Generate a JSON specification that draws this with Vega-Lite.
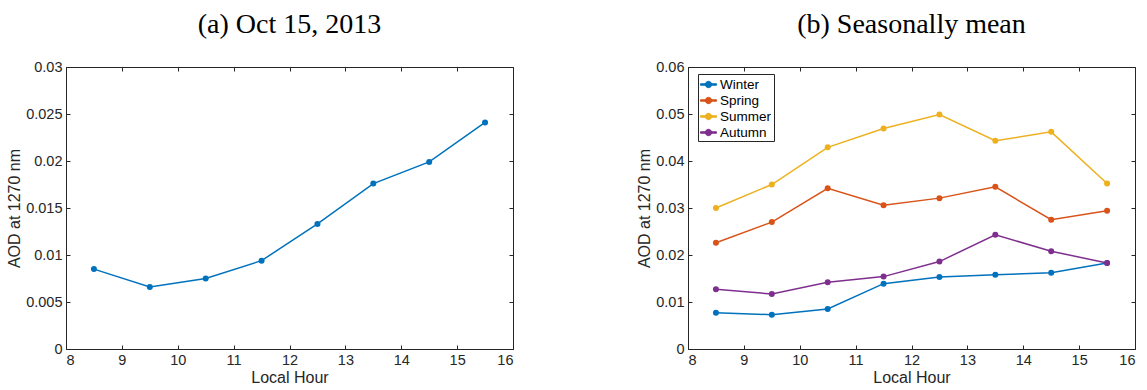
{
  "$schema": "https://vega.github.io/schema/vega-lite/v6.json",
  "background": "white",
  "padding": {"left": 6, "top": 10, "right": 4, "bottom": 0},
  "config": {
    "view": {"stroke": "#262626", "strokeWidth": 1},
    "style": {"guide-label": {"fontSize": 14.5, "font": "Liberation Sans"}, "guide-title": {"fontSize": 16, "font": "Liberation Sans"}},
    "axis": {
      "grid": false,
      "domainColor": "#262626",
      "tickColor": "#262626",
      "labelColor": "#262626",
      "titleColor": "#262626",
      "labelFont": "Liberation Sans",
      "titleFont": "Liberation Sans",
      "labelFontSize": 14.5,
      "titleFontSize": 16,
      "titleFontWeight": "normal",
      "tickSize": -4,
      "labelPadding": 8,
      "titlePadding": 3
    },
    "title": {"font": "Liberation Serif", "fontSize": 28, "fontWeight": "normal", "color": "black", "offset": 20},
    "concat": {"spacing": 122}
  },
  "datasets": {
    "oct": [
      {"hour": 8.5, "aod": 0.0085},
      {"hour": 9.5, "aod": 0.0066},
      {"hour": 10.5, "aod": 0.0075},
      {"hour": 11.5, "aod": 0.0094},
      {"hour": 12.5, "aod": 0.0133},
      {"hour": 13.5, "aod": 0.0176},
      {"hour": 14.5, "aod": 0.0199},
      {"hour": 15.5, "aod": 0.0241}
    ],
    "seasons": [
      {"hour": 8.5, "season": "Winter", "aod": 0.0077},
      {"hour": 9.5, "season": "Winter", "aod": 0.0073},
      {"hour": 10.5, "season": "Winter", "aod": 0.0085},
      {"hour": 11.5, "season": "Winter", "aod": 0.0139},
      {"hour": 12.5, "season": "Winter", "aod": 0.0153},
      {"hour": 13.5, "season": "Winter", "aod": 0.0158},
      {"hour": 14.5, "season": "Winter", "aod": 0.0162},
      {"hour": 15.5, "season": "Winter", "aod": 0.0183},
      {"hour": 8.5, "season": "Spring", "aod": 0.0226},
      {"hour": 9.5, "season": "Spring", "aod": 0.0270},
      {"hour": 10.5, "season": "Spring", "aod": 0.0342},
      {"hour": 11.5, "season": "Spring", "aod": 0.0306},
      {"hour": 12.5, "season": "Spring", "aod": 0.0321},
      {"hour": 13.5, "season": "Spring", "aod": 0.0345},
      {"hour": 14.5, "season": "Spring", "aod": 0.0275},
      {"hour": 15.5, "season": "Spring", "aod": 0.0294},
      {"hour": 8.5, "season": "Summer", "aod": 0.0300},
      {"hour": 9.5, "season": "Summer", "aod": 0.0350},
      {"hour": 10.5, "season": "Summer", "aod": 0.0429},
      {"hour": 11.5, "season": "Summer", "aod": 0.0469},
      {"hour": 12.5, "season": "Summer", "aod": 0.0499},
      {"hour": 13.5, "season": "Summer", "aod": 0.0443},
      {"hour": 14.5, "season": "Summer", "aod": 0.0462},
      {"hour": 15.5, "season": "Summer", "aod": 0.0352},
      {"hour": 8.5, "season": "Autumn", "aod": 0.0127},
      {"hour": 9.5, "season": "Autumn", "aod": 0.0117},
      {"hour": 10.5, "season": "Autumn", "aod": 0.0142},
      {"hour": 11.5, "season": "Autumn", "aod": 0.0154},
      {"hour": 12.5, "season": "Autumn", "aod": 0.0186},
      {"hour": 13.5, "season": "Autumn", "aod": 0.0243},
      {"hour": 14.5, "season": "Autumn", "aod": 0.0208},
      {"hour": 15.5, "season": "Autumn", "aod": 0.0183}
    ]
  },
  "resolve": {"scale": {"color": "independent"}, "legend": {"color": "independent"}},
  "hconcat": [
    {
      "title": {"text": "(a) Oct 15, 2013"},
      "width": 447,
      "height": 282,
      "data": {"name": "oct"},
      "layer": [
        {
          "mark": {"type": "line", "color": "#0072BD", "strokeWidth": 1.5, "point": {"filled": true, "size": 36, "color": "#0072BD"}},
          "encoding": {
            "x": {"field": "hour", "type": "quantitative", "scale": {"domain": [8, 16], "nice": false},
                  "axis": {"title": "Local Hour", "values": [8, 9, 10, 11, 12, 13, 14, 15, 16], "labelFontSize": 14.5, "labelFont": "Liberation Sans", "titleFontSize": 16}},
            "y": {"field": "aod", "type": "quantitative", "scale": {"domain": [0, 0.03], "nice": false},
                  "axis": {"title": "AOD at 1270 nm", "values": [0, 0.005, 0.01, 0.015, 0.02, 0.025, 0.03], "format": "~g", "labelFontSize": 14.5, "labelFont": "Liberation Sans", "titleFontSize": 16}}
          }
        },
        {
          "mark": {"type": "line", "opacity": 0},
          "encoding": {
            "x": {"field": "hour", "type": "quantitative",
                  "axis": {"orient": "top", "labels": false, "title": null, "domain": false, "values": [8, 9, 10, 11, 12, 13, 14, 15, 16]}},
            "y": {"field": "aod", "type": "quantitative",
                  "axis": {"orient": "right", "labels": false, "title": null, "domain": false, "values": [0, 0.005, 0.01, 0.015, 0.02, 0.025, 0.03]}}
          }
        }
      ],
      "resolve": {"axis": {"x": "independent", "y": "independent"}}
    },
    {
      "title": {"text": "(b) Seasonally mean"},
      "width": 447,
      "height": 282,
      "data": {"name": "seasons"},
      "layer": [
        {
          "mark": {"type": "line", "strokeWidth": 1.5},
          "encoding": {
            "x": {"field": "hour", "type": "quantitative", "scale": {"domain": [8, 16], "nice": false},
                  "axis": {"title": "Local Hour", "values": [8, 9, 10, 11, 12, 13, 14, 15, 16], "labelFontSize": 14.5, "labelFont": "Liberation Sans", "titleFontSize": 16}},
            "y": {"field": "aod", "type": "quantitative", "scale": {"domain": [0, 0.06], "nice": false},
                  "axis": {"title": "AOD at 1270 nm", "values": [0, 0.01, 0.02, 0.03, 0.04, 0.05, 0.06], "format": "~g", "labelFontSize": 14.5, "labelFont": "Liberation Sans", "titleFontSize": 16}},
            "color": {"field": "season", "type": "nominal",
                      "scale": {"domain": ["Winter", "Spring", "Summer", "Autumn"], "range": ["#0072BD", "#D95319", "#EDB120", "#7E2F8E"]}}
          }
        },
        {
          "mark": {"type": "point", "filled": true, "size": 36, "opacity": 1},
          "encoding": {
            "x": {"field": "hour", "type": "quantitative", "axis": null},
            "y": {"field": "aod", "type": "quantitative", "axis": null},
            "color": {"field": "season", "type": "nominal",
                      "legend": {
                        "title": null,
                        "orient": "none",
                        "legendX": 10,
                        "legendY": 7,
                        "padding": 2,
                        "strokeColor": "#262626",
                        "fillColor": "white",
                        "labelFont": "Liberation Sans",
                        "labelFontSize": 13.5,
                        "labelColor": "black",
                        "labelOffset": 3,
                        "rowPadding": 1,
                        "symbolSize": 256,
                        "symbolOpacity": 1,
                        "symbolStrokeWidth": 1,
                        "symbolType": "M-1,-0.09H1V0.09H-1Z M0.4,0 A0.4,0.4 0 1,1 -0.4,0 A0.4,0.4 0 1,1 0.4,0Z"
                      }}
          }
        },
        {
          "mark": {"type": "line", "opacity": 0},
          "encoding": {
            "x": {"field": "hour", "type": "quantitative",
                  "axis": {"orient": "top", "labels": false, "title": null, "domain": false, "values": [8, 9, 10, 11, 12, 13, 14, 15, 16]}},
            "y": {"field": "aod", "type": "quantitative",
                  "axis": {"orient": "right", "labels": false, "title": null, "domain": false, "values": [0, 0.01, 0.02, 0.03, 0.04, 0.05, 0.06]}}
          }
        }
      ],
      "resolve": {"axis": {"x": "independent", "y": "independent"}}
    }
  ]
}
